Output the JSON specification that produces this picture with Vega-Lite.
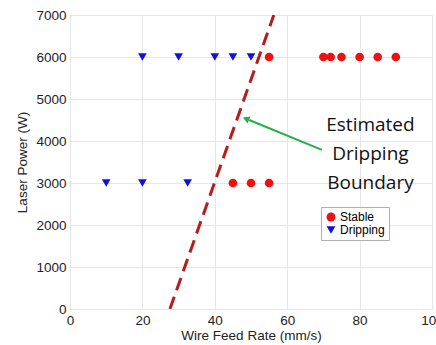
{
  "$schema": "https://vega.github.io/schema/vega-lite/v6.json",
  "width": 362,
  "height": 294,
  "autosize": {"type": "none"},
  "padding": {"left": 70, "top": 15, "right": 4, "bottom": 36},
  "background": "white",
  "config": {
    "view": {"stroke": "#cfcfcf", "strokeWidth": 1},
    "font": "Liberation Sans",
    "axis": {
      "gridColor": "#e6e6e6",
      "domain": false,
      "ticks": false,
      "labelFlush": false,
      "labelFontSize": 13.5,
      "labelColor": "#222222",
      "titleFontSize": 13.5,
      "titleFontWeight": "normal",
      "titleColor": "#222222",
      "labelPadding": 4
    }
  },
  "datasets": {
    "points": [
      {"rate": 20, "power": 6000, "type": "Dripping"},
      {"rate": 30, "power": 6000, "type": "Dripping"},
      {"rate": 40, "power": 6000, "type": "Dripping"},
      {"rate": 45, "power": 6000, "type": "Dripping"},
      {"rate": 50, "power": 6000, "type": "Dripping"},
      {"rate": 55, "power": 6000, "type": "Stable"},
      {"rate": 70, "power": 6000, "type": "Stable"},
      {"rate": 72, "power": 6000, "type": "Stable"},
      {"rate": 75, "power": 6000, "type": "Stable"},
      {"rate": 80, "power": 6000, "type": "Stable"},
      {"rate": 85, "power": 6000, "type": "Stable"},
      {"rate": 90, "power": 6000, "type": "Stable"},
      {"rate": 10, "power": 3000, "type": "Dripping"},
      {"rate": 20, "power": 3000, "type": "Dripping"},
      {"rate": 32.5, "power": 3000, "type": "Dripping"},
      {"rate": 45, "power": 3000, "type": "Stable"},
      {"rate": 50, "power": 3000, "type": "Stable"},
      {"rate": 55, "power": 3000, "type": "Stable"}
    ],
    "boundary": [
      {"rate": 27.6, "power": 0},
      {"rate": 56.3, "power": 7000}
    ],
    "arrow": [
      {"x1": 69.6, "y1": 3790, "x2": 49.5, "y2": 4500}
    ],
    "head": [
      {"x": 48.6, "y": 4530}
    ],
    "label": [
      {"x": 83, "y": 4380, "text": "Estimated"},
      {"x": 83, "y": 3680, "text": "Dripping"},
      {"x": 83, "y": 3000, "text": "Boundary"}
    ]
  },
  "layer": [
    {
      "data": {"name": "boundary"},
      "mark": {"type": "line", "color": "#b71c1c", "strokeWidth": 3, "strokeDash": [13, 7], "clip": true},
      "encoding": {
        "x": {"field": "rate", "type": "quantitative", "scale": {"domain": [0, 100]}, "title": "Wire Feed Rate (mm/s)", "axis": {"values": [0, 20, 40, 60, 80, 100], "titlePadding": 2}},
        "y": {"field": "power", "type": "quantitative", "scale": {"domain": [0, 7000]}, "title": "Laser Power (W)", "axis": {"values": [0, 1000, 2000, 3000, 4000, 5000, 6000, 7000], "format": "d", "titlePadding": 6}}
      }
    },
    {
      "data": {"name": "points"},
      "mark": {"type": "point", "filled": true, "opacity": 1, "size": 75},
      "encoding": {
        "x": {"field": "rate", "type": "quantitative"},
        "y": {"field": "power", "type": "quantitative"},
        "color": {"field": "type", "type": "nominal", "scale": {"domain": ["Stable", "Dripping"], "range": ["#f01010", "#1010e0"]}, "legend": {"title": null, "orient": "none", "legendX": 251, "legendY": 192, "strokeColor": "#b0b0b0", "fillColor": "white", "padding": 4, "labelFontSize": 12, "rowPadding": 1, "symbolSize": 80, "labelOffset": 3}},
        "shape": {"field": "type", "type": "nominal", "scale": {"domain": ["Stable", "Dripping"], "range": ["circle", "triangle-down"]}, "legend": null}
      }
    },
    {
      "data": {"name": "arrow"},
      "mark": {"type": "rule", "color": "#22b04b", "strokeWidth": 2},
      "encoding": {
        "x": {"field": "x1", "type": "quantitative"},
        "y": {"field": "y1", "type": "quantitative"},
        "x2": {"field": "x2"},
        "y2": {"field": "y2"}
      }
    },
    {
      "data": {"name": "head"},
      "mark": {"type": "point", "shape": "triangle-up", "filled": true, "color": "#22b04b", "opacity": 1, "size": 60, "angle": 292},
      "encoding": {
        "x": {"field": "x", "type": "quantitative"},
        "y": {"field": "y", "type": "quantitative"}
      }
    },
    {
      "data": {"name": "label"},
      "mark": {"type": "text", "font": "Open Sans", "fontSize": 19, "color": "#111111", "align": "center", "baseline": "middle"},
      "encoding": {
        "x": {"field": "x", "type": "quantitative"},
        "y": {"field": "y", "type": "quantitative"},
        "text": {"field": "text"}
      }
    }
  ]
}
